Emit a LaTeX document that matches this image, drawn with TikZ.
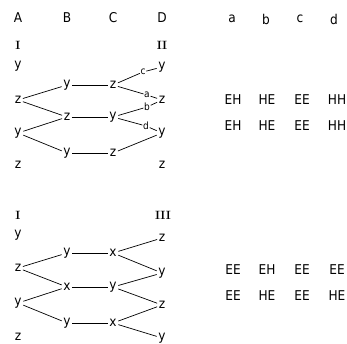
\documentclass[tikz,border=0pt]{standalone}
\usepackage{fontspec}
\setsansfont{DejaVu Sans Condensed}
\begin{document}
\begin{tikzpicture}[x=1pt,y=-1pt,
  lab/.style={font=\sffamily\fontsize{13.5}{13.5}\selectfont, inner sep=1.5pt},
  sm/.style={font=\sffamily\fontsize{10}{10}\selectfont, inner sep=0.6pt},
  rom/.style={font=\rmfamily\bfseries\fontsize{12}{12}\selectfont, inner sep=1pt},
  ln/.style={line width=0.7pt}]
\useasboundingbox (0,0) rectangle (347,344);
% headers
\node[lab] (hA) at (18,18) {A};
\node[lab] (hB) at (67,18) {B};
\node[lab] (hC) at (113,18) {C};
\node[lab] (hD) at (162,18) {D};
\node[lab] (ha) at (232,19) {a};
\node[lab] (hb) at (266,19) {b};
\node[lab] (hc) at (300,19) {c};
\node[lab] (hd) at (334,19) {d};
% top diagram
\node[rom] (tI) at (18,45) {I};
\node[rom] (tII) at (162,45) {II};
\node[lab] (tA1) at (18,66) {y};
\node[lab] (tA2) at (18,100) {z};
\node[lab] (tA3) at (18,133) {y};
\node[lab] (tA4) at (18,165) {z};
\node[lab] (tB1) at (67,85) {y};
\node[lab] (tB2) at (67,117) {z};
\node[lab] (tB3) at (67,153) {y};
\node[lab] (tC1) at (113,85) {z};
\node[lab] (tC2) at (113,117) {y};
\node[lab] (tC3) at (113,153) {z};
\node[lab] (tD1) at (162,67) {y};
\node[lab] (tD2) at (162,100) {z};
\node[lab] (tD3) at (162,133) {y};
\node[lab] (tD4) at (162,165) {z};
\node[sm] (lc) at (143,72) {c};
\node[sm] (la) at (147,95) {a};
\node[sm] (lb) at (147,107) {b};
\node[sm] (ld) at (146,126) {d};
\draw[ln] (tA2) -- (tB1);
\draw[ln] (tA2) -- (tB2);
\draw[ln] (tA3) -- (tB2);
\draw[ln] (tA3) -- (tB3);
\draw[ln] (tB1) -- (tC1);
\draw[ln] (tB2) -- (tC2);
\draw[ln] (tB3) -- (tC3);
\draw[ln] (tC1) -- (lc) -- (tD1);
\draw[ln] (tC1) -- (la) -- (tD2);
\draw[ln] (tC2) -- (lb) -- (tD2);
\draw[ln] (tC2) -- (ld) -- (tD3);
\draw[ln] (tC3) -- (tD3);
% top table
\node[lab] (t11) at (233,100) {EH};
\node[lab] (t12) at (267,100) {HE};
\node[lab] (t13) at (302,100) {EE};
\node[lab] (t14) at (337,100) {HH};
\node[lab] (t21) at (233,126) {EH};
\node[lab] (t22) at (267,126) {HE};
\node[lab] (t23) at (302,126) {EE};
\node[lab] (t24) at (337,126) {HH};
% bottom diagram
\node[rom] (bI) at (18,215) {I};
\node[rom] (bIII) at (163,215) {III};
\node[lab] (bA1) at (18,235) {y};
\node[lab] (bA2) at (18,268) {z};
\node[lab] (bA3) at (18,303) {y};
\node[lab] (bA4) at (18,337) {z};
\node[lab] (bB1) at (67,253) {y};
\node[lab] (bB2) at (67,287) {x};
\node[lab] (bB3) at (67,323) {y};
\node[lab] (bC1) at (113,253) {x};
\node[lab] (bC2) at (113,287) {y};
\node[lab] (bC3) at (113,323) {x};
\node[lab] (bD1) at (162,238) {z};
\node[lab] (bD2) at (162,273) {y};
\node[lab] (bD3) at (162,305) {z};
\node[lab] (bD4) at (162,338) {y};
\draw[ln] (bA2) -- (bB1);
\draw[ln] (bA2) -- (bB2);
\draw[ln] (bA3) -- (bB2);
\draw[ln] (bA3) -- (bB3);
\draw[ln] (bB1) -- (bC1);
\draw[ln] (bB2) -- (bC2);
\draw[ln] (bB3) -- (bC3);
\draw[ln] (bC1) -- (bD1);
\draw[ln] (bC1) -- (bD2);
\draw[ln] (bC2) -- (bD2);
\draw[ln] (bC2) -- (bD3);
\draw[ln] (bC3) -- (bD3);
\draw[ln] (bC3) -- (bD4);
% bottom table
\node[lab] (b11) at (233,270) {EE};
\node[lab] (b12) at (267,270) {EH};
\node[lab] (b13) at (302,270) {EE};
\node[lab] (b14) at (337,270) {EE};
\node[lab] (b21) at (233,296) {EE};
\node[lab] (b22) at (267,296) {HE};
\node[lab] (b23) at (302,296) {EE};
\node[lab] (b24) at (337,296) {HE};
\end{tikzpicture}
\end{document}
